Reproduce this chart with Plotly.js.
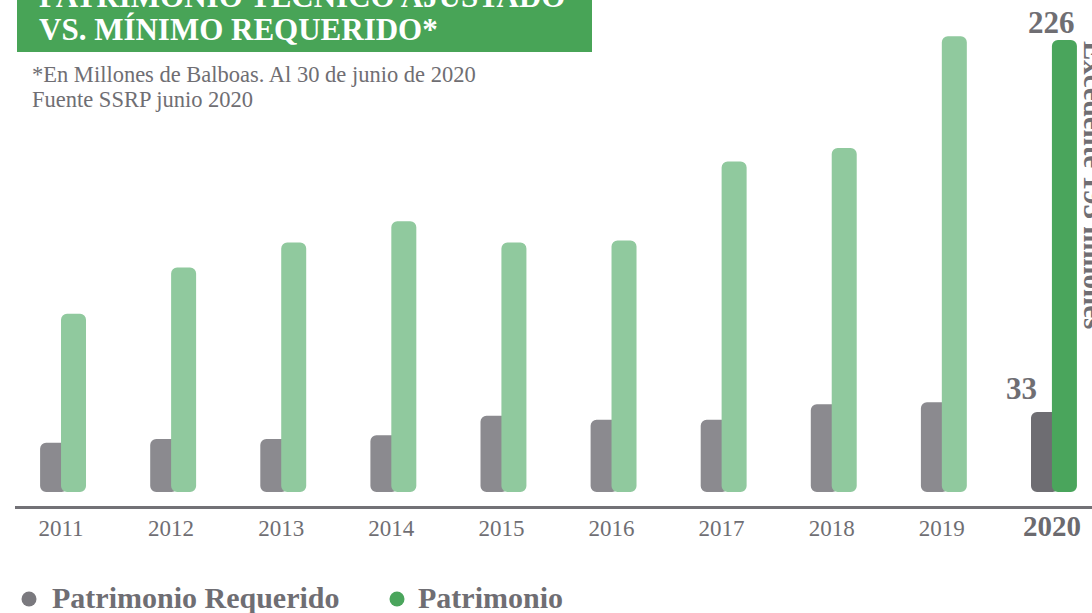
<!DOCTYPE html>
<html><head><meta charset="utf-8">
<script src="https://cdn.plot.ly/plotly-3.0.1.min.js"></script>
<style>html,body{margin:0;padding:0;background:#fff;overflow:hidden}</style>
</head><body><div id="chart" style="width:1092px;height:613px"></div>
<script>
// ---- data (millones de balboas) ----
const years = ['2011','2012','2013','2014','2015','2016','2017','2018','2019','2020'];
const requerido = [17, 19, 19, 21, 31, 29, 29, 37, 38, 33];
const patrimonio = [84, 108, 121, 132, 121, 122, 163, 170, 228, 226];
const highlightYear = '2020';
const seriesNames = ['Patrimonio Requerido', 'Patrimonio'];
const titleLines = ['PATRIMONIO TÉCNICO AJUSTADO', 'VS. MÍNIMO REQUERIDO*'];
const noteLines = ['*En Millones de Balboas. Al 30 de junio de 2020', 'Fuente SSRP junio 2020'];

// ---- style ----
const W = 1092, H = 613, ML = 15, MB = 107, MT = 0, MR = 0;
const PW = W - ML - MR, PH = H - MT - MB;
const TXT = '#6f6e73';
const SERIF = '"Liberation Serif", "DejaVu Serif", serif';
const C = {grey:'#8b8a8f', green:'#90c99e', greyHi:'#6e6d72', greenHi:'#4aa55c', box:'#48a457'};
const BASE = -8.5;            // visual baseline of the bars (bars start slightly above the axis line)
const X = px => (px - ML) / PW;
const Y = py => (MT + PH - py) / PH;

const hiIdx = years.indexOf(highlightYear);
const last = years.length - 1;
const excedente = patrimonio[hiIdx] - requerido[hiIdx];

const traces = [
  {type:'bar', name:seriesNames[0], x:years, y:requerido.map(v => v - BASE), base:BASE,
   offset:-0.19, width:0.25,
   marker:{color:years.map(y => y === highlightYear ? C.greyHi : C.grey), cornerradius:6, line:{width:0}},
   showlegend:false},
  {type:'bar', name:seriesNames[1], x:years, y:patrimonio.map(v => v - BASE), base:BASE,
   offset:0, width:0.227,
   marker:{color:years.map(y => y === highlightYear ? C.greenHi : C.green), cornerradius:6, line:{width:0}},
   showlegend:false}
];

const ticktext = years.map(y => y === highlightYear
  ? '<span style="font-size:29px;color:#6b6a6f"><b>' + y + '</b></span>' : y);

const annotations = [
  {xref:'paper', yref:'paper', x:X(37), y:Y(-4), xanchor:'left', yanchor:'middle', showarrow:false,
   text:'<b>' + titleLines[0] + '</b>', font:{family:SERIF, size:31, color:'#fff'}},
  {xref:'paper', yref:'paper', x:X(37), y:Y(29), xanchor:'left', yanchor:'middle', showarrow:false,
   text:'<b>' + titleLines[1] + '</b>', font:{family:SERIF, size:31, color:'#fff'}},
  {xref:'paper', yref:'paper', x:X(30), y:Y(74), xanchor:'left', yanchor:'middle', showarrow:false,
   text:noteLines[0], font:{family:SERIF, size:22.5, color:TXT}},
  {xref:'paper', yref:'paper', x:X(30), y:Y(100), xanchor:'left', yanchor:'middle', showarrow:false,
   text:noteLines[1], font:{family:SERIF, size:22.5, color:TXT}},
  {xref:'x', yref:'y', x:hiIdx + 0.0, y:patrimonio[hiIdx], yanchor:'bottom', xanchor:'center', yshift:-2, showarrow:false,
   text:'<b>' + patrimonio[hiIdx] + '</b>', font:{family:SERIF, size:31, color:TXT}},
  {xref:'x', yref:'y', x:hiIdx - 0.28, y:requerido[hiIdx], yanchor:'bottom', xanchor:'center', yshift:4, showarrow:false,
   text:'<b>' + requerido[hiIdx] + '</b>', font:{family:SERIF, size:31, color:TXT}},
  {xref:'paper', yref:'paper', x:X(1094), y:Y(185), xanchor:'center', yanchor:'middle', textangle:90, showarrow:false,
   text:'<b>Excedente ' + excedente + ' millones</b>', font:{family:SERIF, size:29, color:TXT}},
  {xref:'paper', yref:'paper', x:X(50), y:Y(597), xanchor:'left', yanchor:'middle', showarrow:false,
   text:'<b>' + seriesNames[0] + '</b>', font:{family:SERIF, size:30, color:TXT}},
  {xref:'paper', yref:'paper', x:X(416), y:Y(597), xanchor:'left', yanchor:'middle', showarrow:false,
   text:'<b>' + seriesNames[1] + '</b>', font:{family:SERIF, size:30, color:TXT}}
];

const dot = (cx, cy, r, col) => ({type:'circle', xref:'paper', yref:'paper', layer:'above',
  x0:X(cx - r), x1:X(cx + r), y0:Y(cy + r), y1:Y(cy - r), fillcolor:col, line:{width:0}});

const shapes = [
  {type:'rect', xref:'paper', yref:'paper', layer:'below', x0:X(17), x1:X(592), y0:Y(52), y1:Y(-20),
   fillcolor:C.box, line:{width:0}},
  dot(29, 599, 7.5, '#7a797e'),
  dot(397, 599, 7.5, C.greenHi)
];

const layout = {
  width:W, height:H, margin:{l:ML, r:MR, t:MT, b:MB, pad:0},
  paper_bgcolor:'#fff', plot_bgcolor:'#fff',
  barmode:'overlay', showlegend:false,
  xaxis:{type:'category', range:[-0.418, last + 0.364], showgrid:false, zeroline:false,
    showline:true, linecolor:'#727176', linewidth:2.5, ticks:'', ticklabelstandoff:0,
    tickmode:'array', tickvals:years, ticktext:ticktext,
    tickfont:{family:SERIF, size:23, color:TXT}, fixedrange:true},
  yaxis:{visible:false, range:[-15.77, 246.76], fixedrange:true, showgrid:false, zeroline:false},
  annotations, shapes
};

Plotly.newPlot('chart', traces, layout, {displayModeBar:false, staticPlot:true});
</script></body></html>
